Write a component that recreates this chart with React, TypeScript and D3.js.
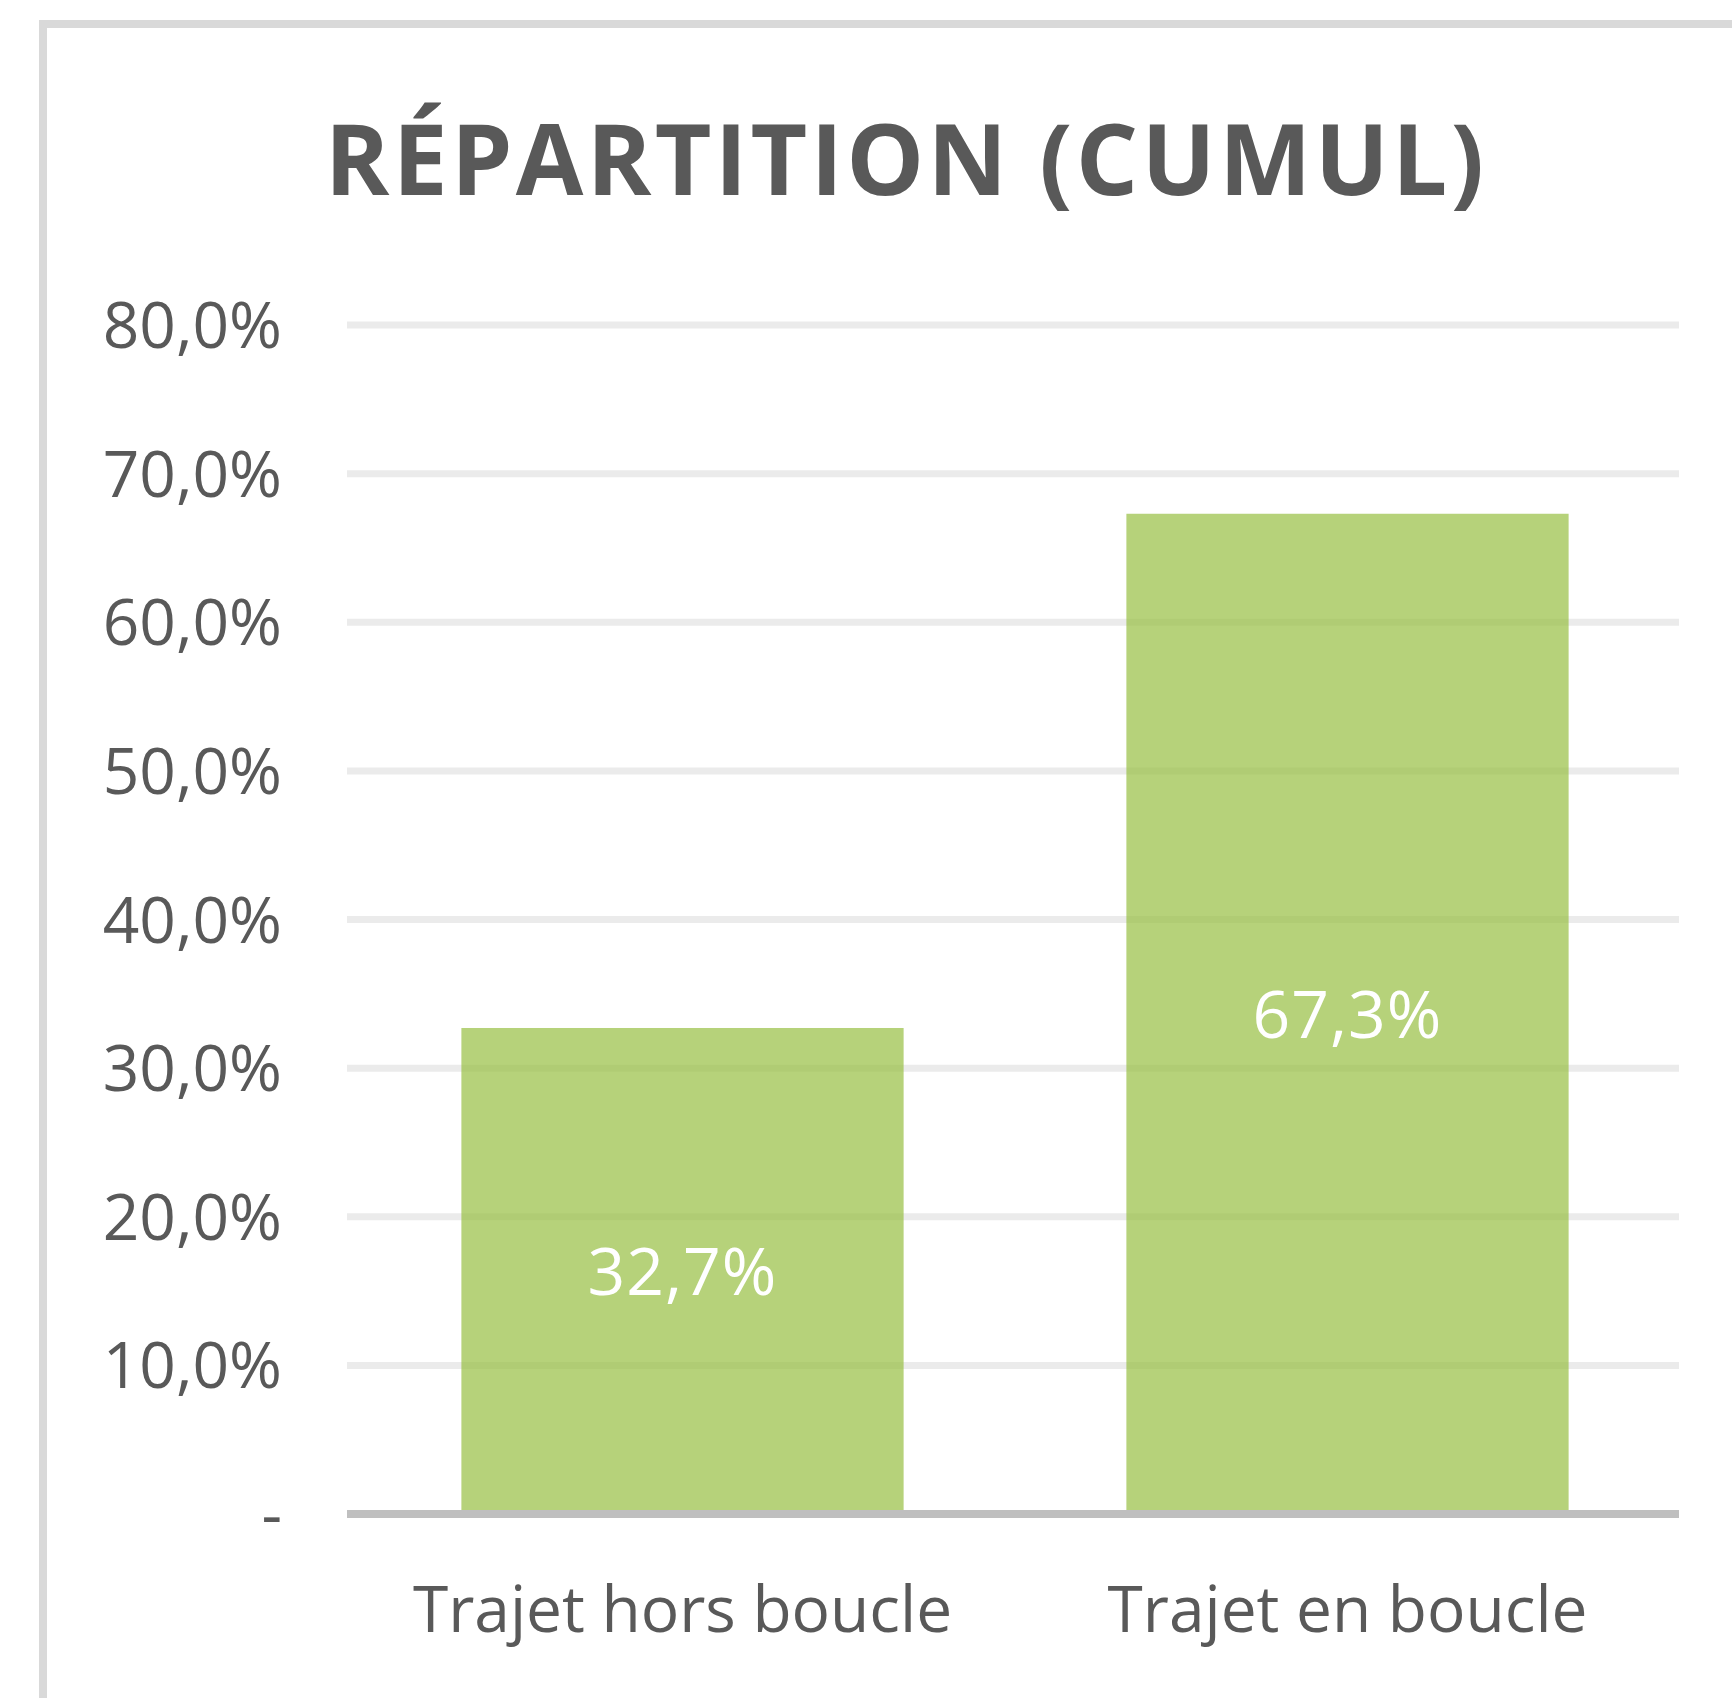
import React, {useEffect, useRef} from 'react';
import * as d3 from 'd3';

const categories = ['Trajet hors boucle', 'Trajet en boucle'];
const values = [0.327, 0.673];
const yTicks = [0, 0.1, 0.2, 0.3, 0.4, 0.5, 0.6, 0.7, 0.8];
const yTickLabels = ['-', '10,0%', '20,0%', '30,0%', '40,0%', '50,0%', '60,0%', '70,0%', '80,0%'];
const title = 'RÉPARTITION (CUMUL)';

const frLocale = d3.formatLocale({decimal: ',', thousands: ' ', grouping: [3], currency: ['', ' €']});
const pct = frLocale.format('.1%');

export default function App() {
    const ref = useRef<SVGSVGElement | null>(null);

    useEffect(() => {
        const width = 1732, height = 1698;
        const left = 347, right = 1679, top = 325, bottom = 1514;
        const font = "'Open Sans', 'DejaVu Sans', sans-serif";
        const textColor = '#595959';

        const svg = d3.select(ref.current)
            .attr('width', width)
            .attr('height', height);
        svg.selectAll('*').remove();

        svg.append('rect')
            .attr('width', width)
            .attr('height', height)
            .attr('fill', '#ffffff');

        // chart frame, right and bottom edges fall outside the picture
        svg.append('rect')
            .attr('x', 43)
            .attr('y', 24)
            .attr('width', width + 100)
            .attr('height', height + 100)
            .attr('fill', 'none')
            .attr('stroke', '#d9d9d9')
            .attr('stroke-width', 8);

        const x = d3.scaleBand()
            .domain(categories)
            .range([left + 3, right + 1])
            .paddingInner(0.335)
            .paddingOuter(0.1675);

        const y = d3.scaleLinear()
            .domain([0, 0.8])
            .range([bottom, top]);

        svg.append('text')
            .attr('x', 906)
            .attr('y', 195)
            .attr('text-anchor', 'middle')
            .attr('font-family', font)
            .attr('font-weight', 700)
            .attr('font-size', 98)
            .attr('letter-spacing', 3.3)
            .attr('fill', textColor)
            .text(title);

        // gridlines
        svg.append('g')
            .selectAll('line')
            .data(yTicks.filter(d => d > 0))
            .enter().append('line')
            .attr('x1', left)
            .attr('x2', right)
            .attr('y1', d => y(d))
            .attr('y2', d => y(d))
            .attr('stroke', '#ebebeb')
            .attr('stroke-width', 7);

        // y tick labels
        svg.append('g')
            .selectAll('text')
            .data(yTicks)
            .enter().append('text')
            .attr('x', 282)
            .attr('y', d => y(d) + 23)
            .attr('text-anchor', 'end')
            .attr('font-family', font)
            .attr('font-size', 64)
            .attr('fill', textColor)
            .text((d, i) => yTickLabels[i]);

        // bars
        svg.append('g')
            .selectAll('rect')
            .data(values)
            .enter().append('rect')
            .attr('x', (d, i) => x(categories[i]) as number)
            .attr('y', d => y(d))
            .attr('width', x.bandwidth())
            .attr('height', d => bottom - y(d))
            .attr('fill', '#97bf41')
            .attr('fill-opacity', 0.7);

        // axis line
        svg.append('line')
            .attr('x1', left)
            .attr('x2', right)
            .attr('y1', y(0))
            .attr('y2', y(0))
            .attr('stroke', '#bfbfbf')
            .attr('stroke-width', 8);

        // value labels inside bars
        svg.append('g')
            .selectAll('text')
            .data(values)
            .enter().append('text')
            .attr('x', (d, i) => (x(categories[i]) as number) + x.bandwidth() / 2)
            .attr('y', d => (y(d) + y(0)) / 2 + 24)
            .attr('text-anchor', 'middle')
            .attr('font-family', font)
            .attr('font-size', 66)
            .attr('letter-spacing', 1)
            .attr('fill', '#ffffff')
            .text(d => pct(d));

        // category labels
        svg.append('g')
            .selectAll('text')
            .data(categories)
            .enter().append('text')
            .attr('x', d => (x(d) as number) + x.bandwidth() / 2)
            .attr('y', 1632)
            .attr('text-anchor', 'middle')
            .attr('font-family', font)
            .attr('font-size', 64)
            .attr('fill', textColor)
            .text(d => d);
    }, []);

    return (
        <svg xmlns="http://www.w3.org/2000/svg" ref={ref}
             style={{position: 'absolute', left: 0, top: 0, display: 'block'}}/>
    );
}
